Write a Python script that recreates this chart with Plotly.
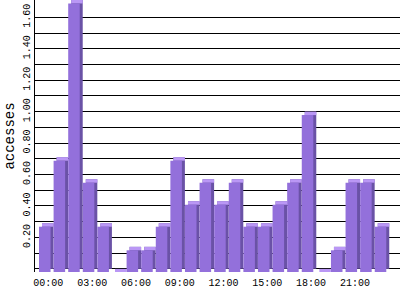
import plotly.graph_objects as go

hours = list(range(24))
accesses = [0.29, 0.71, 1.71, 0.57, 0.29, 0.0, 0.14, 0.14, 0.29, 0.71, 0.43, 0.57,
            0.43, 0.57, 0.29, 0.29, 0.43, 0.57, 1.0, 0.0, 0.14, 0.57, 0.57, 0.29]
xtick_hours = [0, 3, 6, 9, 12, 15, 18, 21]
xtick_text = ["00:00", "03:00", "06:00", "09:00", "12:00", "15:00", "18:00", "21:00"]
ytick_vals = [0.2, 0.4, 0.6, 0.8, 1.0, 1.2, 1.4, 1.6]
ytick_text = ["0.20", "0.40", "0.60", "0.80", "1.00", "1.20", "1.40", "1.60"]
ygrid_minor = [0.1, 0.3, 0.5, 0.7, 0.9, 1.1, 1.3, 1.5]

FRONT = "#9370DB"
SIDE = "#6A52A6"
TOP = "#BA97F5"
depth_y = 0.022     # pseudo-3D depth in data units
width = 0.79
front_off = -0.4
back_off = front_off + 0.205

fig = go.Figure()
# back/side face
fig.add_trace(go.Bar(x=hours, y=accesses, base=[0] * 24, width=width, offset=back_off,
                     marker=dict(color=SIDE, line=dict(width=0)), hoverinfo="skip"))
# top face
fig.add_trace(go.Bar(x=hours, y=[depth_y] * 24, base=[v - depth_y for v in accesses],
                     width=width, offset=back_off,
                     marker=dict(color=TOP, line=dict(width=0)), hoverinfo="skip"))
# front face
fig.add_trace(go.Bar(x=hours, y=accesses, base=[-depth_y] * 24, width=width, offset=front_off,
                     marker=dict(color=FRONT, line=dict(width=0))))

mono = "Liberation Mono"
fig.update_layout(
    width=400, height=300,
    margin=dict(l=35, r=0, t=0, b=28),
    barmode="overlay",
    showlegend=False,
    plot_bgcolor="white", paper_bgcolor="white",
    font=dict(family=mono, color="black", size=10),
    xaxis=dict(range=[-0.674, 24.33], showgrid=False, zeroline=False,
               tickvals=[h + 0.24 for h in xtick_hours], ticktext=xtick_text,
               ticks="", showline=False, ticklabelstandoff=3,
               tickfont=dict(family=mono, size=10, color="black")),
    yaxis=dict(range=[-0.02, 1.71], tickvals=ytick_vals, ticktext=ytick_text,
               tickangle=-90, showgrid=True, gridcolor="black", gridwidth=1,
               minor=dict(tickvals=ygrid_minor, showgrid=True, gridcolor="black", gridwidth=1),
               zeroline=True, zerolinecolor="black", zerolinewidth=1,
               showline=True, linecolor="black", linewidth=1, ticks="",
               tickfont=dict(family=mono, size=10, color="black"),
               title=dict(text="accesses", font=dict(family=mono, size=14, color="black"), standoff=4)),
)

fig.write_html("out.html")
